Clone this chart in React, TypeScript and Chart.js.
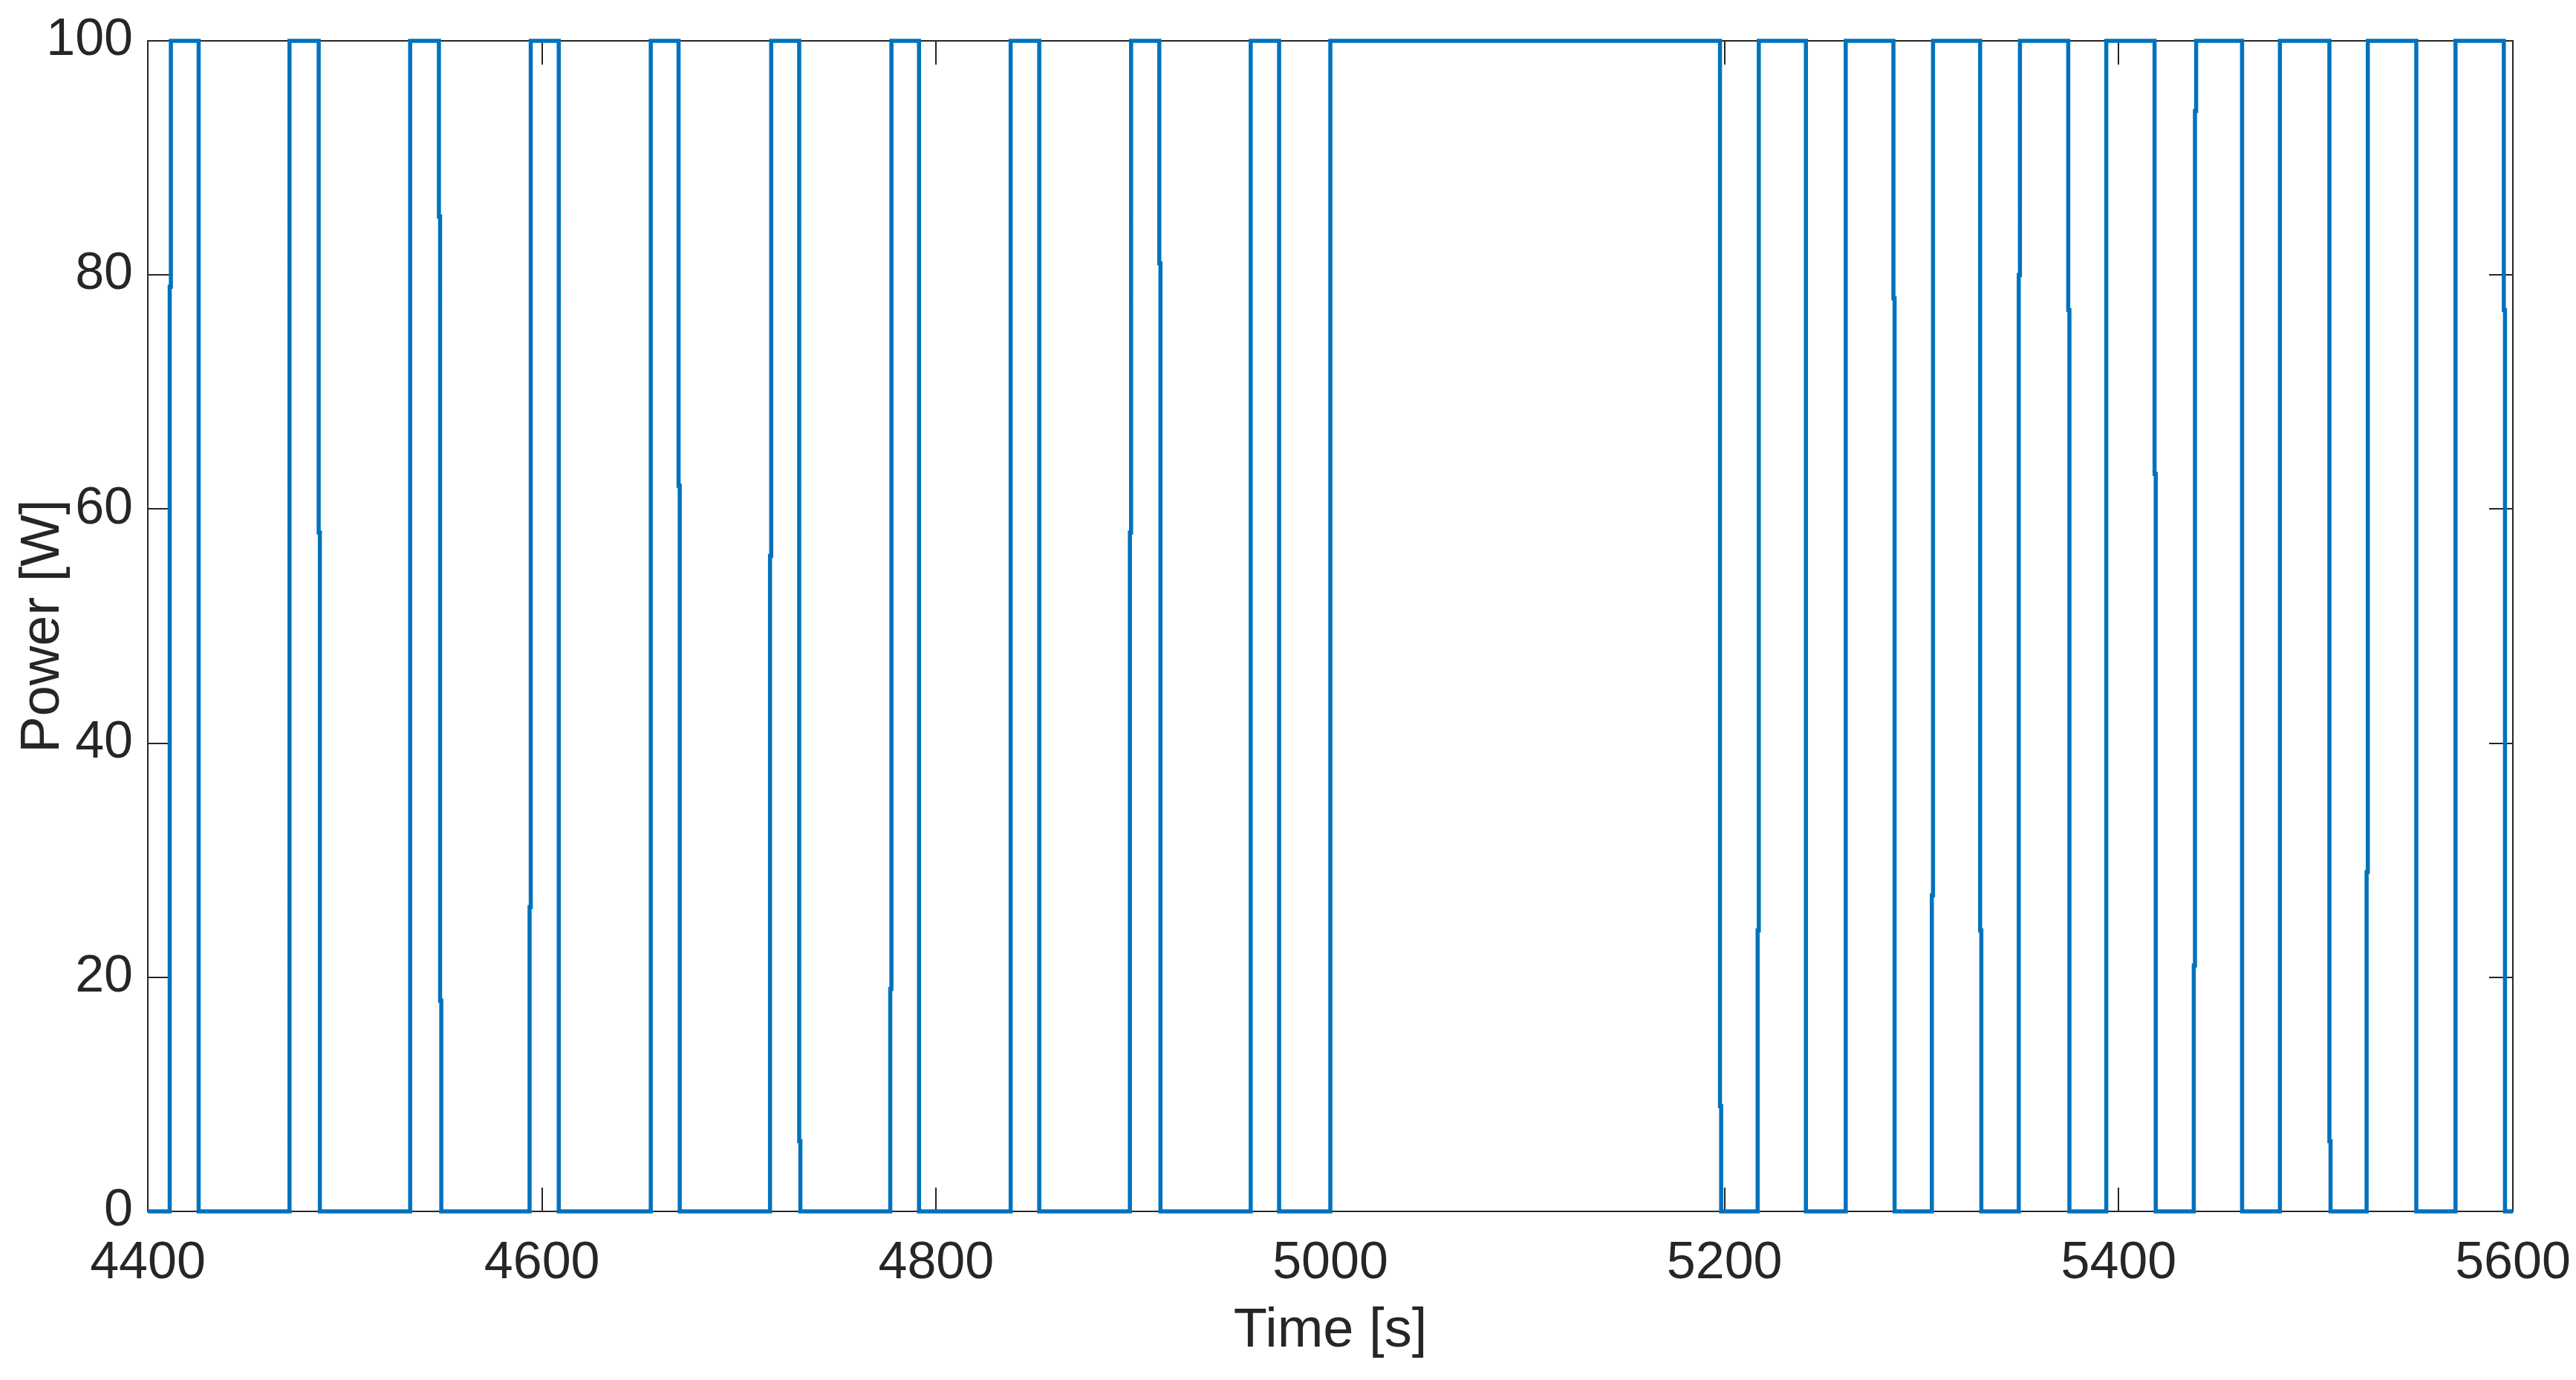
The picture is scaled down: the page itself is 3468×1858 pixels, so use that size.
import { useEffect, useRef } from "react";
import { Chart, registerables } from "chart.js";

Chart.register(...registerables);

// ---- data ----
const xTicks = [4400, 4600, 4800, 5000, 5200, 5400, 5600];
const yTicks = [0, 20, 40, 60, 80, 100];

const riseTimes = [
  4411.1, 4471.9, 4533.1, 4593.7, 4655.2, 4715.7, 4776.7, 4837.8, 4898.3, 4959.6,
  5000.0, 5216.8, 5261.5, 5305.2, 5349.3, 5393.7, 5438.1, 5481.8, 5525.8, 5570.9,
];
const fallTimes = [
  4425.8, 4486.7, 4547.7, 4608.5, 4669.3, 4730.5, 4791.3, 4852.3, 4913.2, 4974.0,
  5197.7, 5241.3, 5285.7, 5329.7, 5374.4, 5418.2, 5462.6, 5506.9, 5551.0, 5595.4,
];
// intermediate sample levels on each edge
const riseMids: number[][] = [
  [79], [], [], [26], [], [56], [19], [], [58], [],
  [], [24], [], [27], [80], [], [21, 94], [], [29], [],
];
const fallMids: number[][] = [
  [], [58], [85, 18], [], [62], [6], [], [], [81], [],
  [9], [], [78], [24], [77], [63], [], [6], [], [77],
];
const lowLevel = 0;
const highLevel = 100;
const startTime = 4400;
const endTime = 5600;

const W = 3468;
const H = 1858;
const FONT = "'Liberation Sans', Arial, Helvetica, sans-serif";
const AXIS = "#262626";
const STEP = 0.6;

function buildPoints() {
  const edges: { t: number; from: number; to: number; mids: number[] }[] = [];
  riseTimes.forEach((t, i) => edges.push({ t, from: lowLevel, to: highLevel, mids: riseMids[i] }));
  fallTimes.forEach((t, i) => edges.push({ t, from: highLevel, to: lowLevel, mids: fallMids[i] }));
  edges.sort((a, b) => a.t - b.t);
  const pts: { x: number; y: number }[] = [{ x: startTime, y: lowLevel }];
  for (const e of edges) {
    let x = e.t;
    pts.push({ x, y: e.from });
    for (const m of e.mids) {
      pts.push({ x, y: m });
      x += STEP;
      pts.push({ x, y: m });
    }
    pts.push({ x, y: e.to });
  }
  pts.push({ x: endTime, y: lowLevel });
  return pts;
}

const TICK_LEN = 32;

const boxPlugin = {
  id: "matlabBox",
  beforeDatasetsDraw(chart: any) {
    const { ctx, chartArea } = chart;
    const { left, right, top, bottom } = chartArea;
    const xs = chart.scales.x;
    const ys = chart.scales.y;
    ctx.save();
    ctx.strokeStyle = AXIS;
    ctx.lineWidth = 2;
    ctx.beginPath();
    for (const v of xTicks) {
      const px = Math.round(xs.getPixelForValue(v));
      ctx.moveTo(px, bottom);
      ctx.lineTo(px, bottom - TICK_LEN);
      ctx.moveTo(px, top);
      ctx.lineTo(px, top + TICK_LEN);
    }
    for (const v of yTicks) {
      const py = Math.round(ys.getPixelForValue(v));
      ctx.moveTo(left, py);
      ctx.lineTo(left + TICK_LEN, py);
      ctx.moveTo(right, py);
      ctx.lineTo(right - TICK_LEN, py);
    }
    ctx.stroke();
    ctx.strokeRect(left, top, right - left, bottom - top);
    ctx.restore();
  },
};

export default function App() {
  const ref = useRef<HTMLCanvasElement>(null);
  useEffect(() => {
    document.body.style.margin = "0";
    const chart = new Chart(ref.current!, {
      type: "line",
      data: {
        datasets: [
          {
            data: buildPoints(),
            borderColor: "#0072BD",
            borderWidth: 5.5,
            pointRadius: 0,
            tension: 0,
            fill: false,
            borderJoinStyle: "miter",
            borderCapStyle: "butt",
            clip: 6,
          } as any,
        ],
      },
      options: {
        animation: false,
        responsive: false,
        devicePixelRatio: 1,
        parsing: false as any,
        layout: { padding: { top: 55, right: 85, left: 0, bottom: 0 } },
        plugins: { legend: { display: false }, tooltip: { enabled: false } },
        scales: {
          x: {
            type: "linear",
            min: startTime,
            max: endTime,
            afterBuildTicks: (s: any) => {
              s.ticks = xTicks.map((v) => ({ value: v }));
            },
            afterFit: (s: any) => {
              s.height = 227;
              s.paddingLeft = 0;
              s.paddingRight = 0;
            },
            grid: { display: false, drawTicks: false },
            border: { display: false },
            ticks: {
              font: { family: FONT, size: 70 },
              color: AXIS,
              padding: 29,
              maxRotation: 0,
              autoSkip: false,
              callback: (v: any) => String(v),
            },
            title: {
              display: true,
              text: "Time [s]",
              font: { family: FONT, size: 74 },
              color: AXIS,
              padding: { top: 0, bottom: 21 },
            },
          },
          y: {
            type: "linear",
            min: 0,
            max: 100,
            afterBuildTicks: (s: any) => {
              s.ticks = yTicks.map((v) => ({ value: v }));
            },
            afterFit: (s: any) => {
              s.width = 199;
              s.paddingTop = 0;
              s.paddingBottom = 0;
            },
            grid: { display: false, drawTicks: false },
            border: { display: false },
            ticks: {
              font: { family: FONT, size: 70 },
              color: AXIS,
              padding: 20,
              autoSkip: false,
              callback: (v: any) => String(v),
            },
            title: {
              display: true,
              text: "Power [W]",
              font: { family: FONT, size: 74 },
              color: AXIS,
              padding: { top: 14, bottom: 0 },
            },
          },
        },
      },
      plugins: [boxPlugin],
    });
    return () => chart.destroy();
  }, []);
  return (
    <div style={{ width: W, height: H }}>
      <canvas ref={ref} width={W} height={H} style={{ display: "block" }} />
    </div>
  );
}
